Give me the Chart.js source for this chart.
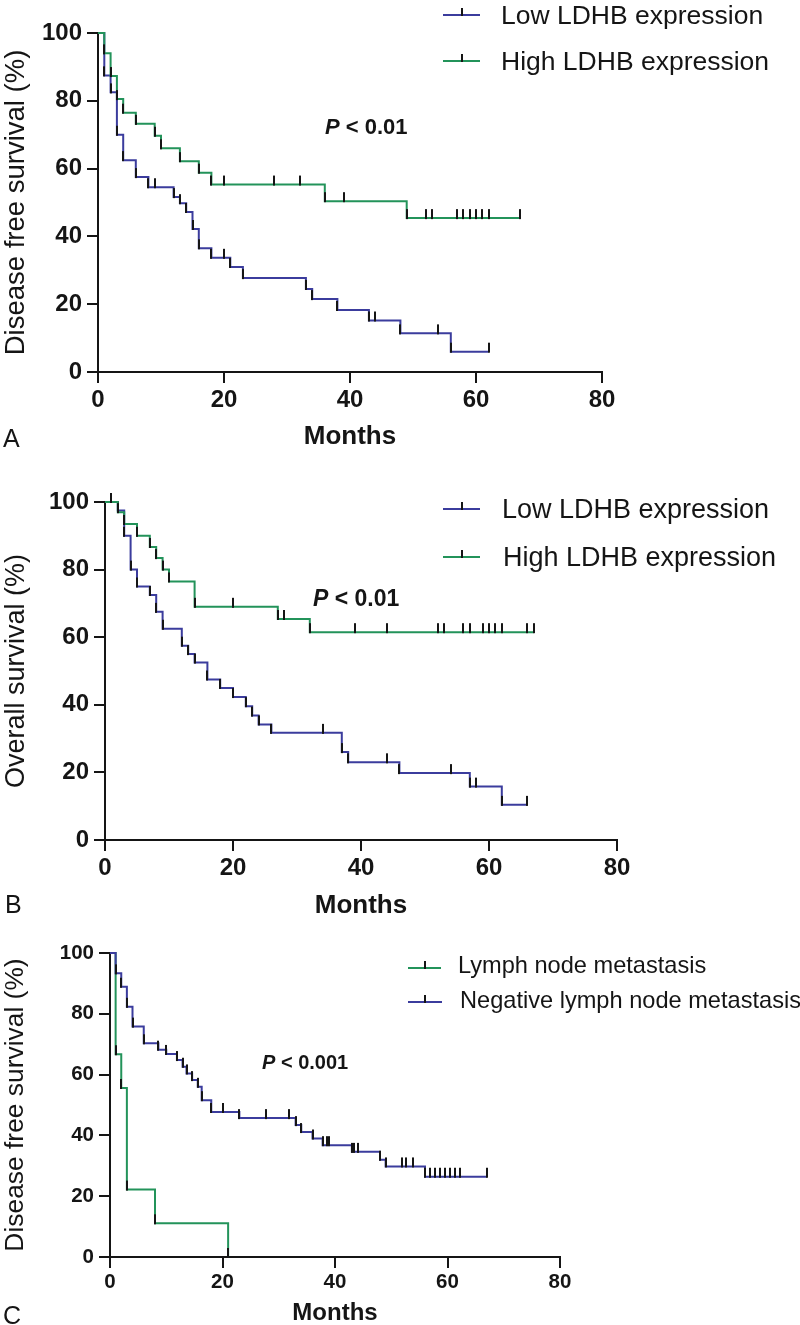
<!DOCTYPE html>
<html><head><meta charset="utf-8">
<script src="https://cdn.jsdelivr.net/npm/chart.js@4.4.0/dist/chart.umd.min.js"></script>
<style>
html,body{margin:0;padding:0;background:#fff;}
#wrap{position:relative;width:800px;height:1325px;overflow:hidden;background:#fff;}
canvas{position:absolute;left:0;}
</style></head><body>
<div id="wrap">
<canvas id="ca" width="800" height="455" style="top:0px"></canvas>
<canvas id="cb" width="800" height="470" style="top:455px"></canvas>
<canvas id="cc" width="800" height="400" style="top:925px"></canvas>
</div>
<script>
// ---------- DATA ----------
const monthTicks = [0, 20, 40, 60, 80];
const pctTicks = [0, 20, 40, 60, 80, 100];

// Panel A: Disease free survival, LDHB
const A_low_months = [0,1,2,3,4,6,8,9,12,13,14,15,16,18,20,21,23,33,34,38,43,44,48,54,56,62];
const A_low_surv   = [100,87.5,82.5,70,62.5,57.5,54.5,54.5,51.6,49.8,47.2,42.2,36.5,33.7,33.7,31,27.7,24.5,21.5,18.3,15.2,15.2,11.4,11.4,6,6];
const A_high_months = [0,1,2,3,4,6,9,10,13,16,18,20,28,32,36,39,49,52,53,57,58,59,60,61,62,67];
const A_high_surv   = [100,94,87.3,80.5,76.5,73.2,69.7,66,62.2,58.8,55.3,55.3,55.3,55.3,50.4,50.4,45.4,45.4,45.4,45.4,45.4,45.4,45.4,45.4,45.4,45.4];

// Panel B: Overall survival, LDHB
const B_low_months = [0,2,3,4,5,7,8,9,12,13,14,16,18,20,22,23,24,26,34,37,38,44,46,54,57,58,62,66];
const B_low_surv   = [100,97.5,90,80,75,72.5,67.5,62.5,57.5,55,52.5,47.5,45,42.3,39.6,36.8,34.2,31.7,31.7,26,23,23,19.8,19.8,15.8,15.8,10.4,10.4];
const B_high_months = [0,1,2,3,5,7,8,9,10,14,20,27,28,32,39,44,52,53,56,57,59,60,61,62,66,67];
const B_high_surv   = [100,100,97,93.5,90,86.7,83.4,80,76.5,69,69,65.4,65.4,61.5,61.5,61.5,61.5,61.5,61.5,61.5,61.5,61.5,61.5,61.5,61.5,61.5];

// Panel C: Disease free survival, lymph node metastasis
const C_pos_months = [0,1,2,3,8,21];
const C_pos_surv   = [100,66.7,55.6,22.2,11.1,0];
const C_neg_months = [0,1,2,3,4,6,8.6,10,11.9,12.9,13.6,14.6,15.6,16.3,18,20,23,27.8,31.8,33,34,36,37.8,38.5,39,43,43.3,44,48,49,51.9,52.7,53.8,56,56.9,57.8,58.7,59.6,60.4,61.3,62.2,67];
const C_neg_surv   = [100,93.3,88.9,82.3,75.8,70.3,68.2,66.8,64.8,62.6,60.4,58.2,56,51.6,47.7,47.7,45.7,45.7,45.7,43.4,41.1,39,36.8,36.8,36.8,34.6,34.6,34.6,32,29.8,29.8,29.8,29.8,26.4,26.4,26.4,26.4,26.4,26.4,26.4,26.4,26.4];

const labelsAB = ['Low LDHB expression', 'High LDHB expression'];
const labelsC = ['Lymph node metastasis', 'Negative lymph node metastasis'];

// ---------- STYLE ----------
const GREEN = '#23935a';
const BLUE = '#3b3c9d';
const INK = '#151515';
const FAM = '"Liberation Sans", Arial, Helvetica, sans-serif';
Chart.defaults.font.family = FAM;
Chart.defaults.color = INK;

function makeTick() {
  const c = document.createElement('canvas');
  c.width = 2; c.height = 20;
  const g = c.getContext('2d');
  g.fillStyle = INK;
  g.fillRect(0, 1, 2, 10);
  return c;
}
const TICK = makeTick();

function curve(label, months, surv, color) {
  return {
    label: label,
    data: months.map((m, i) => ({x: m, y: surv[i]})),
    borderColor: color,
    backgroundColor: color,
    borderWidth: 2,
    stepped: true,
    fill: false,
    tension: 0,
    clip: false,
    pointStyle: TICK,
    pointRadius: ctx => ctx.dataIndex === 0 ? 0 : 3,
    pointHoverRadius: 0
  };
}

function annot(cfg) {
  return {
    id: 'annot',
    afterDraw(chart) {
      const g = chart.ctx;
      g.save();
      // legend
      cfg.legend.forEach(it => {
        g.strokeStyle = it.color; g.lineWidth = 2;
        g.beginPath(); g.moveTo(it.x0, it.y); g.lineTo(it.x1, it.y); g.stroke();
        g.fillStyle = INK;
        const mx = Math.round((it.x0 + it.x1) / 2);
        g.fillRect(mx - 1, it.y - 7, 2, 8);
        g.font = cfg.legendFont + 'px ' + FAM;
        g.textBaseline = 'middle'; g.textAlign = 'left';
        g.fillText(it.text, it.tx, it.ty);
      });
      // p value
      g.textBaseline = 'middle'; g.textAlign = 'left';
      g.font = 'italic bold ' + cfg.pFont + 'px ' + FAM;
      g.fillText('P', cfg.px, cfg.py);
      const w = g.measureText('P').width;
      g.font = 'bold ' + cfg.pFont + 'px ' + FAM;
      g.fillText(' < ' + cfg.pText, cfg.px + w, cfg.py);
      // panel letter
      g.textBaseline = 'alphabetic';
      g.font = cfg.letterFont + 'px ' + FAM;
      g.fillText(cfg.letter, cfg.lx, cfg.ly);
      g.restore();
    }
  };
}

function panel(id, H, area, datasets, o) {
  return new Chart(document.getElementById(id), {
    type: 'line',
    data: {datasets: datasets},
    options: {
      responsive: false,
      animation: false,
      devicePixelRatio: 1,
      events: [],
      layout: {padding: {left: 0, top: area.t, right: 800 - area.r, bottom: 0}},
      plugins: {legend: {display: false}, tooltip: {enabled: false}},
      scales: {
        x: {
          type: 'linear', min: 0, max: 80,
          afterBuildTicks: s => { s.ticks = monthTicks.map(v => ({value: v})); },
          afterFit: s => { s.height = H - area.b; },
          ticks: {font: {size: o.tickFont, weight: 'bold'}, color: INK, padding: o.xTickPad, maxRotation: 0},
          grid: {display: true, drawOnChartArea: false, drawTicks: true, tickLength: 11, color: INK, lineWidth: 2},
          border: {display: true, color: INK, width: 2},
          title: {display: true, text: 'Months', color: INK,
                  font: {size: o.xTitleFont, weight: 'bold', lineHeight: 1},
                  padding: {top: 0, bottom: H - o.xTitleFont / 2 - o.xTitleY}}
        },
        y: {
          type: 'linear', min: 0, max: 100,
          afterBuildTicks: s => { s.ticks = pctTicks.map(v => ({value: v})); },
          afterFit: s => { s.width = area.l; },
          ticks: {font: {size: o.tickFont, weight: 'bold'}, color: INK, padding: 5},
          grid: {display: true, drawOnChartArea: false, drawTicks: true, tickLength: 11, color: INK, lineWidth: 2},
          border: {display: true, color: INK, width: 2},
          title: {display: true, text: o.yTitle, color: INK,
                  font: {size: o.yTitleFont, weight: 'normal', lineHeight: 1},
                  padding: {top: o.yTitleX - o.yTitleFont / 2, bottom: 0}}
        }
      }
    },
    plugins: [annot(o.annot)]
  });
}

// Panel A
panel('ca', 455, {l: 98, r: 602, t: 33, b: 372}, [
  curve(labelsAB[1], A_high_months, A_high_surv, GREEN),
  curve(labelsAB[0], A_low_months, A_low_surv, BLUE)
], {
  tickFont: 24, xTickPad: 3, xTitleFont: 26, xTitleY: 437,
  yTitle: 'Disease free survival (%)', yTitleFont: 27.5, yTitleX: 16,
  annot: {
    legendFont: 26.5,
    legend: [
      {color: BLUE, x0: 443, x1: 480, y: 15, text: labelsAB[0], tx: 501, ty: 17},
      {color: GREEN, x0: 443, x1: 480, y: 61, text: labelsAB[1], tx: 501, ty: 63}
    ],
    pFont: 22, px: 325, py: 128, pText: '0.01',
    letterFont: 25, letter: 'A', lx: 3, ly: 447
  }
});

// Panel B
panel('cb', 470, {l: 105, r: 617, t: 47, b: 385}, [
  curve(labelsAB[1], B_high_months, B_high_surv, GREEN),
  curve(labelsAB[0], B_low_months, B_low_surv, BLUE)
], {
  tickFont: 24, xTickPad: 3, xTitleFont: 26, xTitleY: 451,
  yTitle: 'Overall survival (%)', yTitleFont: 27, yTitleX: 17,
  annot: {
    legendFont: 27,
    legend: [
      {color: BLUE, x0: 443, x1: 480, y: 54, text: labelsAB[0], tx: 502, ty: 56},
      {color: GREEN, x0: 443, x1: 480, y: 102, text: labelsAB[1], tx: 503, ty: 104}
    ],
    pFont: 23, px: 313, py: 145, pText: '0.01',
    letterFont: 25, letter: 'B', lx: 5, ly: 458
  }
});

// Panel C
panel('cc', 400, {l: 110, r: 560, t: 28, b: 332}, [
  curve(labelsC[1], C_neg_months, C_neg_surv, BLUE),
  curve(labelsC[0], C_pos_months, C_pos_surv, GREEN)
], {
  tickFont: 20.5, xTickPad: 2, xTitleFont: 24, xTitleY: 388,
  yTitle: 'Disease free survival (%)', yTitleFont: 26.4, yTitleX: 16,
  annot: {
    legendFont: 23.6,
    legend: [
      {color: GREEN, x0: 408, x1: 441, y: 43, text: labelsC[0], tx: 458, ty: 41},
      {color: BLUE, x0: 408, x1: 442, y: 77, text: labelsC[1], tx: 460, ty: 76}
    ],
    pFont: 20, px: 262, py: 138, pText: '0.001',
    letterFont: 25, letter: 'C', lx: 3, ly: 399
  }
});
</script>
</body></html>
